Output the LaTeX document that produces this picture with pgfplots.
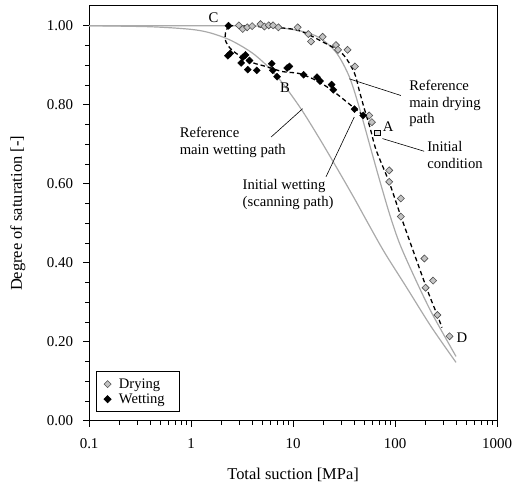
\documentclass[border=0pt]{standalone}
\usepackage{fontspec}
\setmainfont{Liberation Serif}
\usepackage{pgfplots}
\pgfplotsset{compat=1.18}
\definecolor{refgray}{RGB}{170,170,170}
\definecolor{dryfill}{RGB}{195,195,195}
\definecolor{dryedge}{RGB}{80,80,80}

\begin{document}
\begin{tikzpicture}[font=\fontsize{14.7}{17}\selectfont]
\begin{axis}[
  scale only axis, width=408.7pt, height=415.7pt,
  xmode=log, xmin=0.1, xmax=1000, ymin=0, ymax=1.05,
  xtick={0.1,1,10,100,1000}, xticklabels={0.1,1,10,100,1000},
  minor xtick={0.2,0.3,0.4,0.5,0.6,0.7,0.8,0.9,2,3,4,5,6,7,8,9,20,30,40,50,60,70,80,90,200,300,400,500,600,700,800,900},
  ytick={0,0.2,0.4,0.6,0.8,1}, yticklabels={0.00,0.20,0.40,0.60,0.80,1.00},
  minor ytick={0.05,0.1,0.15,0.25,0.3,0.35,0.45,0.5,0.55,0.65,0.7,0.75,0.85,0.9,0.95},
  tick align=outside, tick pos=left,
  major tick length=6pt, minor tick length=4pt,
  every tick/.style={black, line width=0.8pt},
  axis line style={line width=1pt},
  tick label style={font=\fontsize{15}{17}\selectfont},
  xticklabel style={inner xsep=0pt, yshift=-8pt},
  yticklabel style={xshift=-6.5pt},
  xlabel={Total suction [MPa]}, ylabel={Degree of saturation [-]},
  label style={font=\fontsize{16.5}{19}\selectfont},
  xlabel style={at={(axis description cs:0.5,-0.13)}, anchor=center},
  ylabel style={at={(axis description cs:-0.1745,0.5)}, anchor=center},
  legend style={at={(axis description cs:0.0164,0.0209)}, anchor=south west, draw=black, line width=0.8pt, inner xsep=2pt, inner ysep=5pt, row sep=0pt, font=\fontsize{14.6}{17}\selectfont},
  legend image code/.code={\path (0pt,0pt) (18pt,0pt); \draw[#1] plot coordinates {(9pt,0pt)};},
  legend cell align=left,
  clip=false,
]
% legend series first
\addplot[only marks, mark=square*, mark size=2.5pt, mark options={rotate=45, fill=dryfill, draw=dryedge, line width=0.6pt}] coordinates {
(2.94,1.001) (3.21,0.992) (3.55,0.996) (3.97,0.999) (4.79,1.004) (5.24,0.998) (5.77,1.001) (6.37,1.001) (7.18,0.996)
(11.09,0.996) (14.11,0.979) (15.00,0.960) (19.48,0.972) (26.35,0.951) (27.57,0.939) (34.21,0.939) (40.44,0.897)
(55.80,0.773) (59.29,0.756) (87.6,0.634) (87.6,0.605) (114.0,0.563) (114.0,0.517) (194.0,0.411) (235.9,0.355)
(199.3,0.337) (260.0,0.268) (342.1,0.214)
};
\addlegendentry{\makebox[57pt][l]{Drying}}
\addplot[only marks, mark=square*, mark size=2.5pt, mark options={rotate=45, fill=black, draw=black}] coordinates {
(2.328,1.0) (2.292,0.924) (2.418,0.930) (3.212,0.920) (3.415,0.926) (3.099,0.906) (3.736,0.912) (3.595,0.889)
(4.403,0.887) (6.174,0.904) (6.315,0.887) (6.970,0.871) (8.736,0.893) (9.201,0.897) (12.70,0.876) (17.17,0.870)
(18.38,0.860) (23.86,0.851) (24.80,0.838) (40.07,0.789) (48.74,0.773)
};
\addlegendentry{\makebox[57pt][l]{Wetting}}
% reference main wetting path
\addplot[refgray, line width=1.2pt, smooth, tension=0.5, forget plot] coordinates {
(0.1,1.0) (0.3925,0.9975) (0.9667,0.9912) (1.517,0.9824) (2.491,0.9622) (4.181,0.9269) (6.866,0.8739)
(11.53,0.7958) (18.09,0.7152) (28.38,0.6294) (40.71,0.5589) (52.16,0.5084) (78.22,0.4278) (128.4,0.3396)
(225.6,0.2387) (396.1,0.1480)
};
% reference main drying path
\addplot[refgray, line width=1.2pt, smooth, tension=0.5, forget plot] coordinates {
(0.1,1.0) (2.984,1.0) (5.863,0.9975) (11.53,0.9874) (18.09,0.9698) (26.53,0.9319) (35.55,0.8714) (44.55,0.7933)
(58.36,0.6849) (71.47,0.6042) (89.55,0.5185) (112.2,0.4454) (160.9,0.3547) (230.7,0.2715) (396.1,0.1631)
};
% drying path (dashed)
\addplot[black, line width=1.3pt, dash pattern=on 4.5pt off 3pt, smooth, tension=0.5, forget plot] coordinates {
(2.328,1.0) (3.736,0.9987) (7.344,0.995) (11.53,0.9874) (19.35,0.9597) (30.38,0.9294) (39.80,0.8815) (44.55,0.8361)
(49.86,0.7908) (57.07,0.7404) (65.33,0.6849) (87.56,0.6042) (114.7,0.5160) (201.5,0.3396) (258.2,0.2690) (288.9,0.2362)
};
% initial wetting (scanning) path (dashed)
\addplot[black, line width=1.3pt, dash pattern=on 4.5pt off 3pt, smooth, tension=0.5, forget plot] coordinates {
(48.74,0.7731) (38.04,0.7958) (24.24,0.8361) (16.90,0.8614) (11.53,0.8790) (7.858,0.8840) (5.480,0.8966)
(3.997,0.9067) (2.984,0.9244) (2.434,0.9420) (2.176,0.9622) (2.176,0.9824) (2.328,1.0)
};
% initial condition A
\addplot[only marks, mark=square*, mark size=2.6pt, mark options={fill=gray!25, draw=black, line width=1pt}, forget plot] coordinates {(67.28,0.7285)};
% leader lines
\draw[black, line width=0.6pt] (axis cs:35.55,0.8656) -- (axis cs:114.0,0.8235);
\draw[black, line width=0.6pt] (axis cs:75.24,0.7144) -- (axis cs:192.7,0.6824);
\draw[black, line width=0.6pt] (axis cs:6.094,0.7184) -- (axis cs:12.41,0.79);
\draw[black, line width=0.6pt] (axis cs:21.03,0.6176) -- (axis cs:39.8,0.7688);
% labels
\node at (axis cs:1.661,1.0202) {C};
\node at (axis cs:8.315,0.8437) {B};
\node at (axis cs:85.6,0.7454) {A};
\node at (axis cs:453.7,0.211) {D};
\node[anchor=north west, align=left, inner sep=0pt] at (axis cs:137.4,0.8639) {Reference\\main drying\\path};
\node[anchor=north west, align=left, inner sep=0pt] at (axis cs:206.1,0.7076) {Initial\\condition};
\node[anchor=north west, align=left, inner sep=0pt] at (axis cs:0.7716,0.7429) {Reference\\main wetting path};
\node[anchor=north west, align=left, inner sep=0pt] at (axis cs:3.19,0.6118) {Initial wetting\\(scanning path)};
\coordinate (ll) at (rel axis cs:0,0);
\end{axis}
\path (ll) ++(-89.3pt,-65.3pt) rectangle ++(512pt,487pt);
\end{tikzpicture}
\end{document}
